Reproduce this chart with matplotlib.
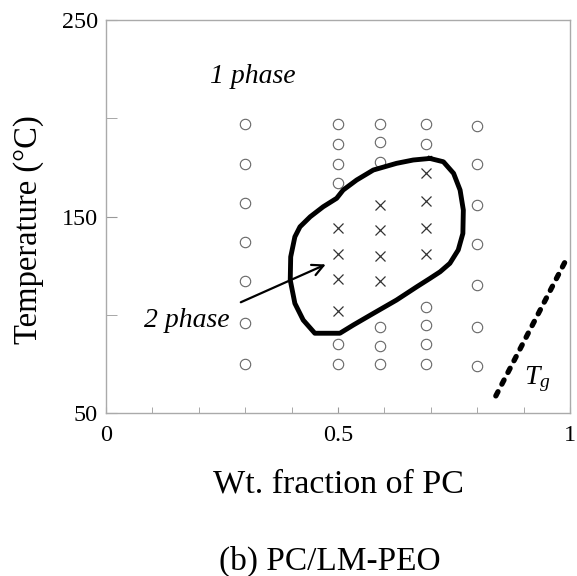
import matplotlib
matplotlib.use("Agg")
import matplotlib.pyplot as plt
import numpy as np

plt.rcParams['font.family'] = ['Liberation Serif', 'DejaVu Serif']
plt.rcParams['mathtext.fontset'] = 'custom'
plt.rcParams['mathtext.rm'] = 'Liberation Serif'
plt.rcParams['mathtext.it'] = 'Liberation Serif:italic'

# one-phase points (open circles)
circ_x = [0.3]*7 + [0.5]*6 + [0.59]*6 + [0.69]*6 + [0.8]*7
circ_y = [197, 177, 157, 137, 117, 96, 75,
          197, 187, 177, 167, 85, 75,
          197, 188, 178, 94, 84, 75,
          197, 187, 104, 95, 85, 75,
          196, 177, 156, 136, 115, 94, 74]
# two-phase points (crosses)
cross_x = [0.5]*4 + [0.59]*4 + [0.69]*4
cross_y = [144, 131, 118, 102,
           156, 143, 130, 117,
           172, 158, 144, 131]
# phase boundary
bnd_x = [0.698, 0.727, 0.749, 0.763, 0.770, 0.769, 0.759, 0.741, 0.720, 0.698,
         0.670, 0.626, 0.576, 0.533, 0.504, 0.450, 0.425, 0.407, 0.397, 0.398,
         0.407, 0.418, 0.440, 0.468, 0.497, 0.511, 0.540, 0.576, 0.626, 0.662, 0.698]
bnd_y = [179.6, 177.9, 172.0, 163.5, 153.3, 141.4, 133.0, 126.2, 121.9, 118.5,
         114.3, 107.5, 100.7, 94.8, 90.6, 90.6, 97.3, 105.8, 117.7, 129.5,
         139.7, 144.8, 149.9, 155.0, 159.3, 163.5, 168.6, 173.7, 177.1, 178.8, 179.6]
# glass transition line
tg_x = [0.840, 0.993]
tg_y = [58.7, 128.7]

fig = plt.figure(figsize=(5.77, 5.76), dpi=100)
ax = fig.add_axes([0.1837, 0.283, 0.8043, 0.682])

ax.plot(circ_x, circ_y, linestyle='none', marker='o', markersize=7.5,
        markerfacecolor='none', markeredgecolor='#666666', markeredgewidth=0.8)
ax.plot(cross_x, cross_y, linestyle='none', marker='x', markersize=7.5,
        color='#333333', markeredgewidth=0.9)
ax.plot(bnd_x, bnd_y, color='black', linewidth=3.5, solid_joinstyle='round')
ax.plot(tg_x, tg_y, color='black', linewidth=3.8, dashes=(0.9, 1.6),
        dash_capstyle='round')

ax.annotate('', xy=(0.479, 126.2), xytext=(0.285, 105.8),
            arrowprops=dict(arrowstyle='->,head_length=0.8,head_width=0.4',
                            color='black', lw=1.6))
ax.text(0.174, 97.3, '2 phase', fontsize=20, fontstyle='italic',
        ha='center', va='center')
ax.text(0.317, 221.5, '1 phase', fontsize=20, fontstyle='italic',
        ha='center', va='center')
ax.text(0.9, 67, r'$T_g$', fontsize=20, ha='left', va='center')

ax.set_xlim(0, 1)
ax.set_ylim(50, 250)
ax.set_xticks([0, 0.5, 1])
ax.set_xticklabels(['0', '0.5', '1'])
ax.set_xticks(np.arange(0, 1.01, 0.1), minor=True)
ax.set_yticks([50, 150, 250])
ax.set_yticks([100, 200], minor=True)
ax.tick_params(which='both', direction='in', color='#999999', labelsize=17.4)
ax.tick_params(axis='y', which='both', length=8, pad=6)
ax.tick_params(axis='x', which='both', length=4, pad=9)
for s in ax.spines.values():
    s.set_color('#aaaaaa')
    s.set_linewidth(1.0)

ax.set_xlabel('Wt. fraction of PC', fontsize=24.5, labelpad=16)
ax.set_ylabel('Temperature (°C)', fontsize=23.5)
ax.yaxis.set_label_coords(-0.134, 0.468)
fig.text(0.572, 0.026, '(b) PC/LM-PEO', fontsize=24, ha='center', va='center')

fig.savefig('out.png', dpi=100)
